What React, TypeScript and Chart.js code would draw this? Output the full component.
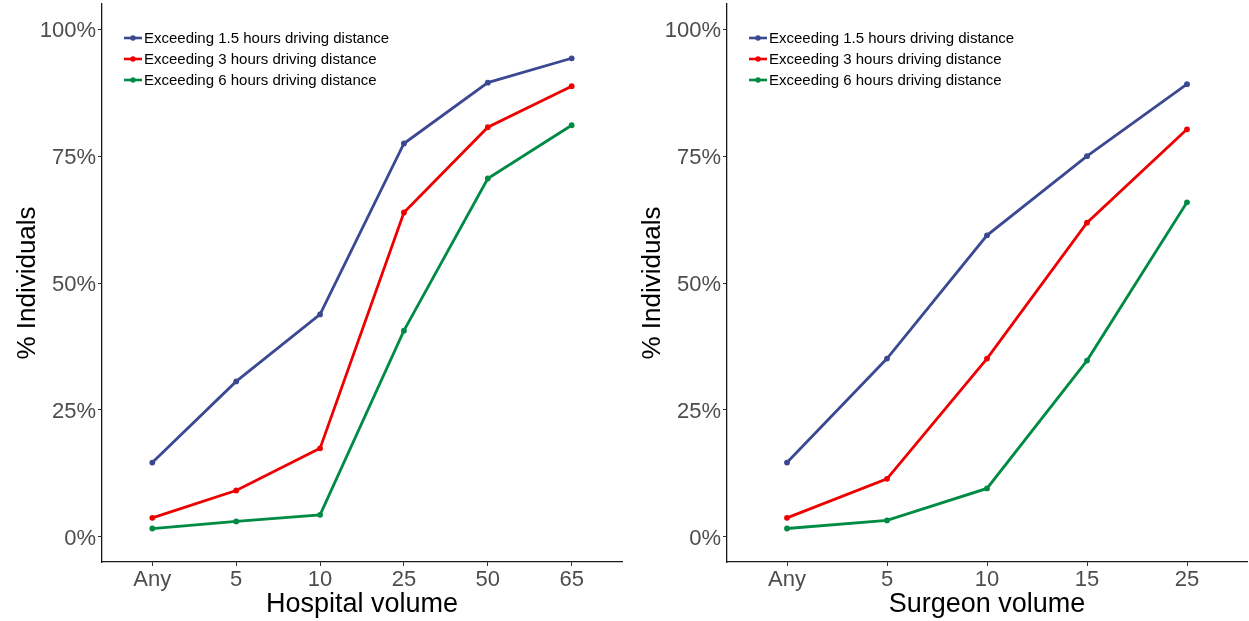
import React, { useEffect, useRef } from "react";
import { Chart, registerables } from "chart.js";

Chart.register(...registerables);

const hospitalCategories = ["Any", "5", "10", "25", "50", "65"];
const hospital15 = [14.6, 30.6, 43.8, 77.5, 89.5, 94.3];
const hospital3 = [3.7, 9.1, 17.4, 63.9, 80.7, 88.8];
const hospital6 = [1.6, 3.0, 4.3, 40.6, 70.6, 81.1];

const surgeonCategories = ["Any", "5", "10", "15", "25"];
const surgeon15 = [14.6, 35.1, 59.4, 75.0, 89.2];
const surgeon3 = [3.7, 11.4, 35.1, 61.9, 80.3];
const surgeon6 = [1.6, 3.2, 9.5, 34.7, 65.9];

const seriesLabels = [
  "Exceeding 1.5 hours driving distance",
  "Exceeding 3 hours driving distance",
  "Exceeding 6 hours driving distance",
];
const seriesColors = ["#3B4992", "#EE0000", "#008B45"];
const yTicks = [0, 25, 50, 75, 100];
const yTitle = "% Individuals";

const FONT = "'Liberation Sans', Arial, Helvetica, sans-serif";

const insideLegend = {
  id: "insideLegend",
  afterDatasetsDraw(chart: any) {
    const { ctx, chartArea } = chart;
    ctx.save();
    chart.data.datasets.forEach((ds: any, i: number) => {
      const y = chartArea.top + 34 + i * 21;
      const x0 = chartArea.left + 22;
      ctx.strokeStyle = ds.borderColor;
      ctx.lineWidth = 2.6;
      ctx.beginPath();
      ctx.moveTo(x0, y);
      ctx.lineTo(x0 + 18, y);
      ctx.stroke();
      ctx.fillStyle = ds.borderColor;
      ctx.beginPath();
      ctx.arc(x0 + 9, y, 2.7, 0, Math.PI * 2);
      ctx.fill();
      ctx.fillStyle = "#000000";
      ctx.font = `15px ${FONT}`;
      ctx.textBaseline = "middle";
      ctx.textAlign = "left";
      ctx.fillText(ds.label, x0 + 20, y + 1);
    });
    ctx.restore();
  },
};

type PanelProps = {
  categories: string[];
  series: number[][];
  xTitle: string;
  left: number;
  width: number;
  padRight: number;
};

function Panel({ categories, series, xTitle, left, width, padRight }: PanelProps) {
  const ref = useRef<HTMLCanvasElement | null>(null);
  useEffect(() => {
    if (!ref.current) return;
    const chart = new Chart(ref.current, {
      type: "line",
      data: {
        datasets: series.map((vals, i) => ({
          label: seriesLabels[i],
          data: vals.map((v, j) => ({ x: j, y: v })),
          borderColor: seriesColors[i],
          backgroundColor: seriesColors[i],
          borderWidth: 2.8,
          pointRadius: 2.9,
          pointHoverRadius: 2.9,
          pointBorderWidth: 0,
          tension: 0,
        })),
      },
      options: {
        responsive: false,
        animation: false,
        devicePixelRatio: 1,
        layout: { autoPadding: false, padding: { top: 4, right: padRight, left: 0, bottom: 0 } },
        plugins: { legend: { display: false }, tooltip: { enabled: false } },
        scales: {
          x: {
            type: "linear",
            min: -0.6,
            max: categories.length - 1 + 0.6,
            afterBuildTicks: (scale: any) => {
              scale.ticks = categories.map((_, i) => ({ value: i }));
            },
            afterFit: (scale: any) => {
              scale.height = 59;
              scale.paddingLeft = 0;
              scale.paddingRight = 0;
            },
            ticks: {
              callback: (v: any) => categories[Math.round(Number(v))] ?? "",
              color: "#4D4D4D",
              font: { family: FONT, size: 22 },
              padding: 1,
              maxRotation: 0,
              autoSkip: false,
            },
            grid: {
              display: true,
              drawOnChartArea: false,
              drawTicks: true,
              tickLength: 4,
              color: "#333333",
              lineWidth: 1,
            },
            border: { display: true, color: "#1a1a1a", width: 1.3 },
            title: {
              display: true,
              text: xTitle,
              color: "#000000",
              font: { family: FONT, size: 27 },
              padding: { top: 0, bottom: 0 },
            },
          },
          y: {
            type: "linear",
            min: -5,
            max: 105,
            afterBuildTicks: (scale: any) => {
              scale.ticks = yTicks.map((v) => ({ value: v }));
            },
            afterFit: (scale: any) => {
              scale.width = 102;
              scale.paddingTop = 0;
              scale.paddingBottom = 0;
            },
            ticks: {
              callback: (v: any) => `${v}%`,
              color: "#4D4D4D",
              font: { family: FONT, size: 22 },
              padding: 2,
              labelOffset: 2,
            },
            grid: {
              display: true,
              drawOnChartArea: false,
              drawTicks: true,
              tickLength: 4,
              color: "#333333",
              lineWidth: 1,
            },
            border: { display: true, color: "#1a1a1a", width: 1.3 },
            title: {
              display: true,
              text: yTitle,
              color: "#000000",
              font: { family: FONT, size: 26 },
              padding: { top: 12, bottom: 0 },
            },
          },
        },
      },
      plugins: [insideLegend],
    } as any);
    return () => chart.destroy();
  }, [categories, series, xTitle, padRight]);

  return (
    <canvas
      ref={ref}
      width={width}
      height={621}
      style={{ position: "absolute", left, top: 0, width, height: 621 }}
    />
  );
}

export default function App() {
  return (
    <div style={{ position: "absolute", left: 0, top: 0, width: 1249, height: 621, background: "#ffffff" }}>
      <Panel
        categories={hospitalCategories}
        series={[hospital15, hospital3, hospital6]}
        xTitle="Hospital volume"
        left={0}
        width={625}
        padRight={3}
      />
      <Panel
        categories={surgeonCategories}
        series={[surgeon15, surgeon3, surgeon6]}
        xTitle="Surgeon volume"
        left={625}
        width={624}
        padRight={2}
      />
    </div>
  );
}
